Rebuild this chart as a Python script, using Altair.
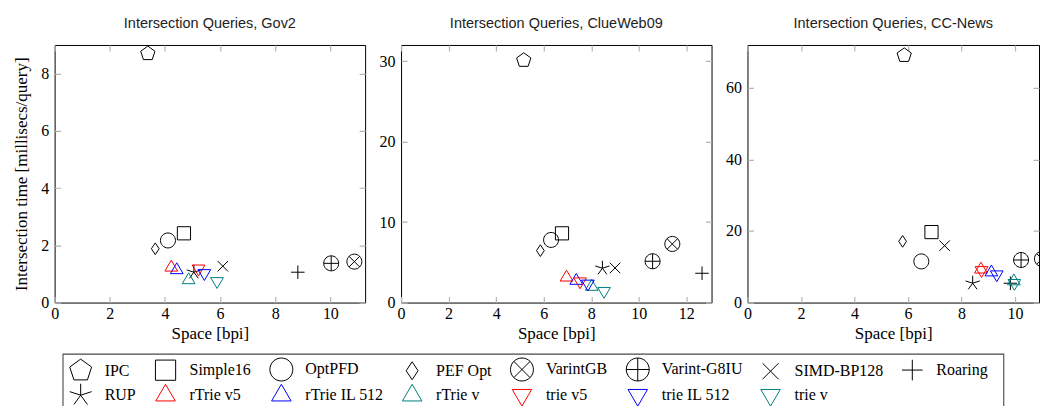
import altair as alt
import pandas as pd

methods = ["IPC", "Simple16", "OptPFD", "PEF Opt", "VarintGB", "Varint-G8IU",
           "SIMD-BP128", "Roaring", "RUP", "rTrie v5", "rTrie IL 512", "rTrie v",
           "trie v5", "trie IL 512", "trie v"]

gov2_space = [3.38, 4.69, 4.11, 3.65, 10.87, 10.03, 6.10, 8.82, 5.05, 4.23, 4.43, 4.86, 5.22, 5.43, 5.89]
gov2_time = [8.70, 2.42, 2.17, 1.88, 1.43, 1.37, 1.27, 1.06, 1.06, 1.23, 1.14, 0.79, 1.18, 1.02, 0.74]

cw_space = [5.16, 6.77, 6.31, 5.86, 11.41, 10.58, 9.00, 12.66, 8.47, 6.96, 7.37, 8.02, 7.53, 7.86, 8.54]
cw_time = [30.1, 8.6, 7.78, 6.45, 7.28, 5.13, 4.3, 3.64, 4.26, 3.14, 2.73, 1.99, 2.6, 2.32, 1.41]

cc_space = [5.86, 6.88, 6.50, 5.80, 11.01, 10.23, 7.37, 9.83, 8.42, 8.73, 9.12, 9.96, 8.75, 9.32, 9.98]
cc_time = [69.1, 19.7, 11.5, 17.1, 12.2, 11.9, 15.9, 5.4, 5.4, 9.3, 8.5, 6.0, 9.0, 7.8, 5.4]

circle = "M1,0A1,1,0,1,1,-1,0A1,1,0,1,1,1,0Z"
shapes = [
    "M0,-1L0.951,-0.309L0.588,0.809L-0.588,0.809L-0.951,-0.309Z",          # pentagon
    "M-0.88,-0.88L0.88,-0.88L0.88,0.88L-0.88,0.88Z",                        # square
    circle,                                                                  # circle
    "M0,-0.78L0.52,0L0,0.78L-0.52,0Z",                                       # diamond
    circle + "M-0.707,-0.707L0.707,0.707M-0.707,0.707L0.707,-0.707",         # otimes
    circle + "M-1,0L1,0M0,-1L0,1",                                           # oplus
    "M-0.7,-0.7L0.7,0.7M-0.7,0.7L0.7,-0.7",                                  # x
    "M-0.9,0L0.9,0M0,-0.9L0,0.9",                                            # +
    "M0,0L0,-1M0,0L0.951,-0.309M0,0L0.588,0.809M0,0L-0.588,0.809M0,0L-0.951,-0.309",  # star
    "M0,-0.95L0.85,0.5L-0.85,0.5Z",
    "M0,-0.95L0.85,0.5L-0.85,0.5Z",
    "M0,-0.95L0.85,0.5L-0.85,0.5Z",
    "M0,0.95L0.85,-0.5L-0.85,-0.5Z",
    "M0,0.95L0.85,-0.5L-0.85,-0.5Z",
    "M0,0.95L0.85,-0.5L-0.85,-0.5Z",
]
colors = ["black"] * 9 + ["#ff0000", "#0000ff", "#008080", "#ff0000", "#0000ff", "#008080"]

H = 258
SERIF = "Liberation Serif"
SANS = "Liberation Sans"

legend = alt.Legend(
    orient="none", legendX=9.6, legendY=308.3, columns=8, direction="horizontal",
    title=None, labelFont=SERIF, labelFontSize=16, labelColor="black",
    labelOffset=12, symbolSize=529, symbolStrokeWidth=1, columnPadding=16,
    rowPadding=-2, padding=4.5, strokeColor="transparent", fillColor="transparent",
)


def panel(space, time, title, W, xmax, ymax, xticks, yticks, ytitle, frame=False):
    df = pd.DataFrame({"method": methods, "space": space, "time": time})
    yaxis_kwargs = dict(
        values=yticks, grid=True, gridDash=[6, W - 12, 6, 3000], gridColor="#b4b4b4",
        gridWidth=1.2, ticks=False, domain=False, labelPadding=6, labelFlush=False,
    )
    if ytitle:
        yaxis_kwargs["title"] = ytitle
        yaxis_kwargs["titlePadding"] = 10
    else:
        yaxis_kwargs["title"] = None
    pts = alt.Chart(df).mark_point(filled=False, size=225, strokeWidth=1, opacity=1, clip=True).encode(
        x=alt.X("space:Q", scale=alt.Scale(domain=[0, xmax], nice=False, zero=False),
                axis=alt.Axis(values=xticks, title="Space [bpi]", grid=True,
                              gridDash=[6, H - 12, 6, 3000], gridColor="#b4b4b4",
                              gridWidth=1.2, ticks=False, domain=False, labelPadding=3,
                              labelFlush=False, titlePadding=4)),
        y=alt.Y("time:Q", scale=alt.Scale(domain=[0, ymax], nice=False, zero=False),
                axis=alt.Axis(**yaxis_kwargs)),
        shape=alt.Shape("method:N", scale=alt.Scale(domain=methods, range=shapes), legend=legend),
        color=alt.Color("method:N", scale=alt.Scale(domain=methods, range=colors), legend=legend),
    )
    layers = [pts]
    if frame:
        # frame drawn around the shared legend
        box = alt.Chart(pd.DataFrame({"k": [0]})).mark_rect(
            fillOpacity=0, stroke="#4a4a4a", strokeWidth=1.1
        ).encode(x=alt.value(8.4), x2=alt.value(950.7), y=alt.value(309.7), y2=alt.value(380))
        layers.append(box)
    return alt.layer(*layers, title=alt.TitleParams(
        text=title, font=SANS, fontSize=14.5, fontWeight="normal", color="#222222", offset=14,
    )).properties(width=W, height=H)


p1 = panel(gov2_space, gov2_time, "Intersection Queries, Gov2", 311, 11.26, 9.0,
           [0, 2, 4, 6, 8, 10], [0, 2, 4, 6, 8], "Intersection time [millisecs/query]", frame=True)
p2 = panel(cw_space, cw_time, "Intersection Queries, ClueWeb09", 311, 13.06, 32.0,
           [0, 2, 4, 6, 8, 10, 12], [0, 10, 20, 30], None)
p3 = panel(cc_space, cc_time, "Intersection Queries, CC-News", 292, 10.9, 72.0,
           [0, 2, 4, 6, 8, 10], [0, 20, 40, 60], None)

chart = alt.hconcat(p1, p2, p3, spacing=36, bounds="flush").properties(
    padding={"left": 3.7, "top": 6.7, "right": 0, "bottom": 0}
).configure_view(stroke="black", strokeWidth=1).configure_axis(
    labelFont=SERIF, labelFontSize=16, labelColor="black",
    titleFont=SERIF, titleFontSize=17, titleFontWeight="normal", titleColor="black",
)

chart.save("out.html", embed_options={"renderer": "svg", "actions": False})
